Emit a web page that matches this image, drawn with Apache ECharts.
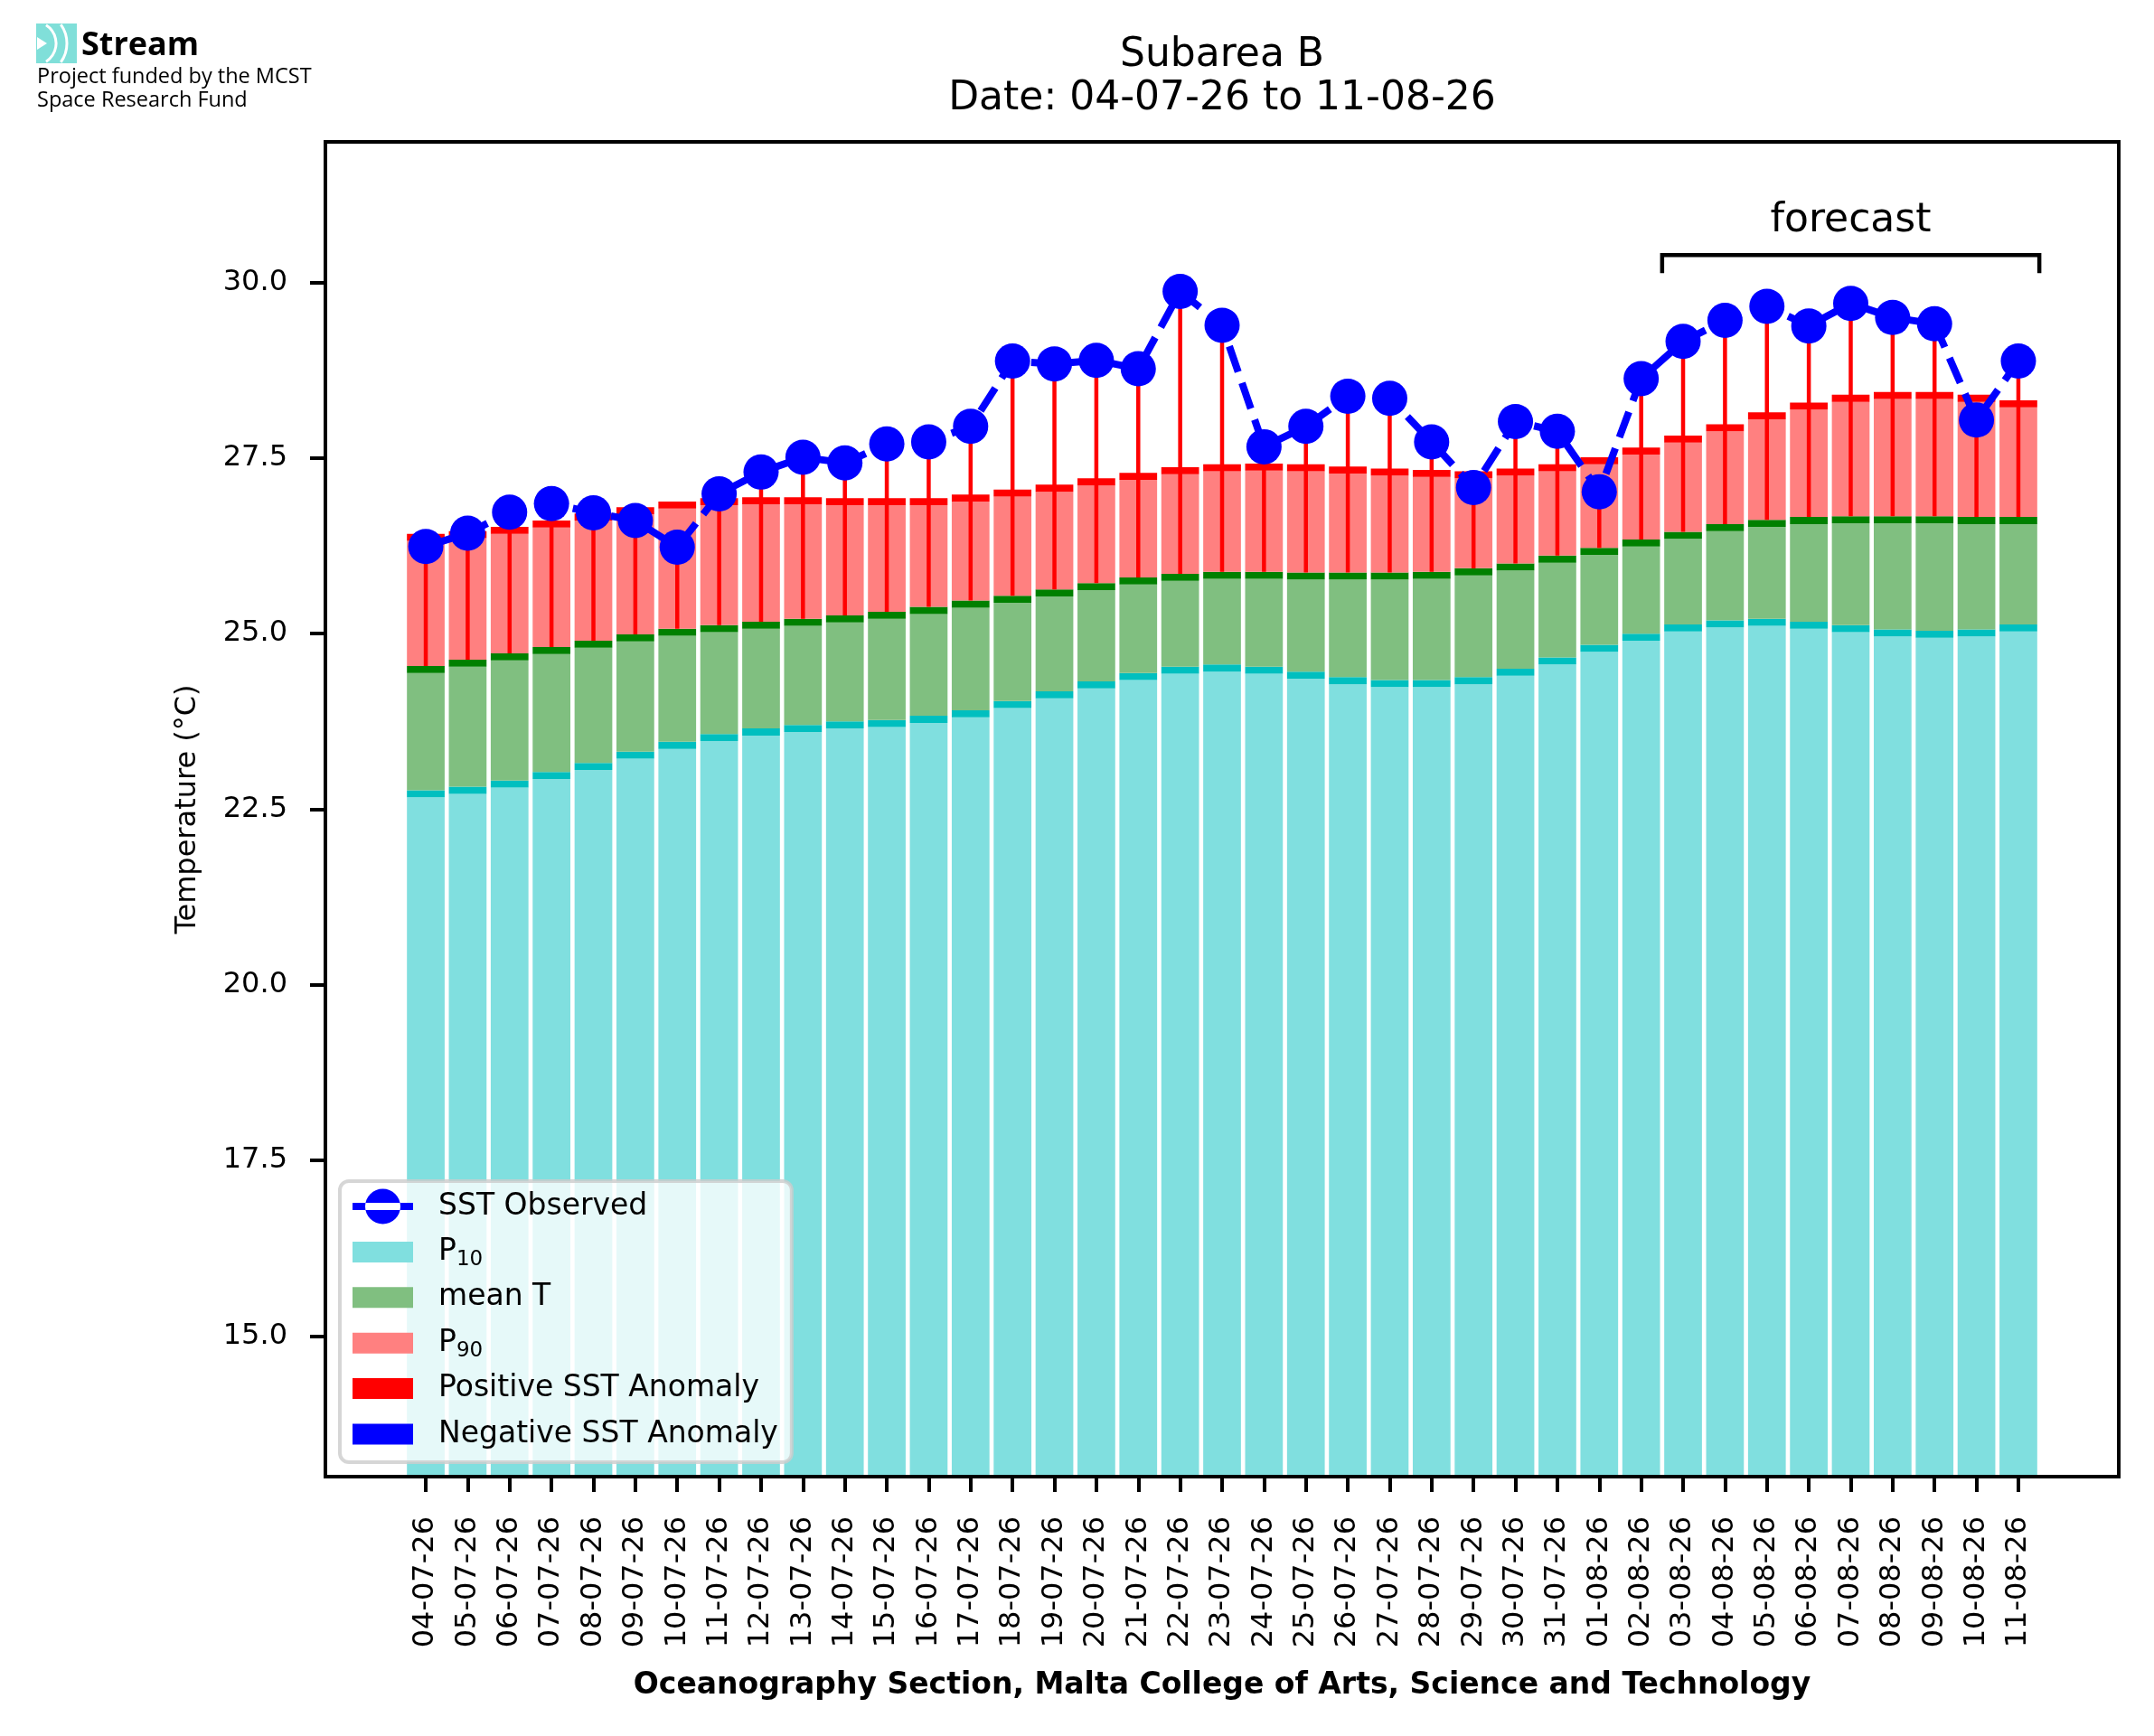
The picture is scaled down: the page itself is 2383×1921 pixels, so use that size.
<!DOCTYPE html>
<html lang="en">
<head>
<meta charset="UTF-8">
<title>Subarea B - SST</title>
<script src="https://cdn.jsdelivr.net/npm/echarts@6.0.0/dist/echarts.min.js"></script>
<style>
    html, body { margin: 0; padding: 0; background: #fff; }
    #container { width: 2383px; height: 1921px; }
</style>
</head>
<body>
<div id="container"></div>
<script>
// daily values
var days = ['04-07-26', '05-07-26', '06-07-26', '07-07-26', '08-07-26', '09-07-26', '10-07-26',
    '11-07-26', '12-07-26', '13-07-26', '14-07-26', '15-07-26', '16-07-26', '17-07-26',
    '18-07-26', '19-07-26', '20-07-26', '21-07-26', '22-07-26', '23-07-26', '24-07-26',
    '25-07-26', '26-07-26', '27-07-26', '28-07-26', '29-07-26', '30-07-26', '31-07-26',
    '01-08-26', '02-08-26', '03-08-26', '04-08-26', '05-08-26', '06-08-26', '07-08-26',
    '08-08-26', '09-08-26', '10-08-26', '11-08-26'];
var p10 = [22.77, 22.82, 22.91, 23.03, 23.16, 23.32, 23.46, 23.57, 23.65, 23.70, 23.75, 23.77, 23.83,
    23.91, 24.04, 24.18, 24.32, 24.44, 24.53, 24.56, 24.53, 24.46, 24.38, 24.34, 24.34, 24.38,
    24.50, 24.66, 24.84, 25.00, 25.13, 25.19, 25.21, 25.17, 25.12, 25.06, 25.04, 25.06, 25.13];
var meanT = [24.54, 24.63, 24.72, 24.81, 24.90, 24.99, 25.07, 25.12, 25.17, 25.21, 25.26, 25.31, 25.38,
    25.47, 25.54, 25.63, 25.72, 25.80, 25.85, 25.88, 25.88, 25.87, 25.87, 25.87, 25.88, 25.93,
    26.00, 26.11, 26.22, 26.34, 26.45, 26.56, 26.62, 26.66, 26.67, 26.67, 26.67, 26.66, 26.66];
var p90 = [26.42, 26.46, 26.52, 26.61, 26.71, 26.80, 26.88, 26.93, 26.94, 26.94, 26.93, 26.93, 26.93,
    26.98, 27.05, 27.12, 27.21, 27.29, 27.37, 27.41, 27.42, 27.41, 27.38, 27.35, 27.33, 27.31,
    27.35, 27.41, 27.51, 27.65, 27.82, 27.98, 28.15, 28.29, 28.40, 28.44, 28.44, 28.40, 28.32];
var sstObserved = [26.24, 26.43, 26.73, 26.85, 26.72, 26.61, 26.23, 26.99, 27.30, 27.51, 27.43, 27.70, 27.73,
    27.95, 28.88, 28.84, 28.89, 28.77, 29.87, 29.39, 27.66, 27.95, 28.38, 28.35, 27.73, 27.08,
    28.02, 27.88, 27.02, 28.63, 29.16, 29.46, 29.66, 29.38, 29.70, 29.50, 29.41, 28.04, 28.88];

var yTicks = [15, 17.5, 20, 22.5, 25, 27.5, 30];
// forecast bracket: from / to (bar positions), leg bottom, bracket level, label level
var forecastSpan = [29.5, 38.5];
var forecastLevels = [30.13, 30.39, 30.88];

var FONT = 'DejaVu Sans';
var BAR_W = 0.9;
var CAP = 0.1;

var idx = days.map(function (d, i) { return i; });

// one stacked layer of a bar: body + thin darker cap on top
function layerRender(bodyColor, capColor) {
    return function (params, api) {
        var x = api.value(0);
        var lo = api.value(1), hi = api.value(2);
        var w = api.size([1, 0])[0] * BAR_W;
        var pLo = api.coord([x, lo]);
        var pCap = api.coord([x, hi - CAP]);
        var pHi = api.coord([x, hi]);
        return {
            type: 'group',
            children: [{
                type: 'rect',
                shape: { x: pLo[0] - w / 2, y: pCap[1], width: w, height: pLo[1] - pCap[1] },
                style: { fill: bodyColor }
            }, {
                type: 'rect',
                shape: { x: pLo[0] - w / 2, y: pHi[1], width: w, height: pCap[1] - pHi[1] },
                style: { fill: capColor }
            }]
        };
    };
}

function anomalyRender(color) {
    return function (params, api) {
        var a = api.coord([api.value(0), api.value(1)]);
        var b = api.coord([api.value(0), api.value(2)]);
        return {
            type: 'line',
            shape: { x1: a[0], y1: a[1], x2: b[0], y2: b[1] },
            style: { stroke: color, lineWidth: 4.5 }
        };
    };
}

var posAnom = [], negAnom = [];
idx.forEach(function (i) {
    if (sstObserved[i] >= meanT[i]) posAnom.push([i, meanT[i], sstObserved[i]]);
    else negAnom.push([i, meanT[i], sstObserved[i]]);
});

var rectIcon = 'path://M0,0M90,48M0,12.5h67v23h-67z';
var dotIcon = 'path://M0,0M90,48M0,20h67v8h-67zM14,24a19.5,19.5 0 1,0 39,0a19.5,19.5 0 1,0 -39,0z';

var dom = document.getElementById('container');
var myChart = echarts.init(dom);

var option = {
    animation: false,
    backgroundColor: '#fff',
    grid: {
        left: 360, right: 39, top: 157, bottom: 287,
        show: true, borderColor: '#000', borderWidth: 4, backgroundColor: 'transparent'
    },
    graphic: [
        // logo
        {
            type: 'group', x: 40, y: 26,
            children: [
                { type: 'rect', shape: { x: 0, y: 0, width: 45, height: 44 }, style: { fill: '#80dfd9' } },
                { type: 'polygon', shape: { points: [[1, 15], [12, 22], [1, 29]] }, style: { fill: '#fff' } },
                { type: 'arc', shape: { cx: -2, cy: 22, r: 24, startAngle: -1.0, endAngle: 1.0 },
                    style: { stroke: '#fff', lineWidth: 3, fill: null } },
                { type: 'arc', shape: { cx: -2, cy: 22, r: 36, startAngle: -0.62, endAngle: 0.62 },
                    style: { stroke: '#fff', lineWidth: 3, fill: null } }
            ]
        },
        { type: 'text', x: 90, y: 51, style: { text: 'Stream', font: 'bold 36px "Open Sans"', fill: '#000', textVerticalAlign: 'middle' } },
        { type: 'text', x: 41, y: 85, style: { text: 'Project funded by the MCST', font: '23.5px "Open Sans"', fill: '#000', textVerticalAlign: 'middle' } },
        { type: 'text', x: 41, y: 111, style: { text: 'Space Research Fund', font: '23.5px "Open Sans"', fill: '#000', textVerticalAlign: 'middle' } },
        // title
        { type: 'text', x: 1352, y: 62, style: { text: 'Subarea B', font: '44px "DejaVu Sans"', fill: '#000', textAlign: 'center', textVerticalAlign: 'middle' } },
        { type: 'text', x: 1352, y: 110, style: { text: 'Date: ' + days[0] + ' to ' + days[days.length - 1], font: '44px "DejaVu Sans"', fill: '#000', textAlign: 'center', textVerticalAlign: 'middle' } }
    ],
    legend: {
        orient: 'vertical',
        left: 376, top: 1307,
        padding: [4, 15, 7, 14],
        itemGap: 2.4,
        itemWidth: 90,
        itemHeight: 48,
        selectedMode: false,
        backgroundColor: 'rgba(255,255,255,0.8)',
        borderColor: 'rgba(204,204,204,0.8)',
        borderWidth: 4,
        borderRadius: 10,
        textStyle: {
            fontFamily: FONT, fontSize: 33, color: '#000',
            rich: {
                p: { fontFamily: FONT, fontSize: 33, color: '#000', lineHeight: 40, verticalAlign: 'middle' },
                s: { fontFamily: FONT, fontSize: 23, color: '#000', lineHeight: 40, verticalAlign: 'bottom' }
            }
        },
        formatter: function (name) {
            if (name === 'P10') return '{p|P}{s|10}';
            if (name === 'P90') return '{p|P}{s|90}';
            return name;
        },
        data: [
            { name: 'SST Observed', icon: dotIcon },
            { name: 'P10', icon: rectIcon },
            { name: 'mean T', icon: rectIcon },
            { name: 'P90', icon: rectIcon },
            { name: 'Positive SST Anomaly', icon: rectIcon },
            { name: 'Negative SST Anomaly', icon: rectIcon }
        ]
    },
    xAxis: {
        type: 'value',
        min: -2.395,
        max: 40.395,
        z: 5,
        name: 'Oceanography Section, Malta College of Arts, Science and Technology',
        nameLocation: 'middle',
        nameGap: 215,
        nameTextStyle: { fontFamily: FONT, fontSize: 33, fontWeight: 'bold', color: '#000' },
        axisLine: { show: true, onZero: false, lineStyle: { color: '#000', width: 4 } },
        axisTick: { show: true, length: 17, customValues: idx, lineStyle: { color: '#000', width: 4 } },
        axisLabel: {
            customValues: idx,
            rotate: 90,
            margin: 44,
            fontFamily: FONT, fontSize: 32, color: '#000',
            formatter: function (v) { return days[Math.round(v)]; }
        },
        splitLine: { show: false }
    },
    yAxis: {
        type: 'value',
        min: 13,
        max: 32,
        z: 5,
        name: 'Temperature (°C)',
        nameLocation: 'middle',
        nameRotate: 90,
        nameGap: 136,
        nameTextStyle: { fontFamily: FONT, fontSize: 32, color: '#000' },
        axisLine: { show: true, onZero: false, lineStyle: { color: '#000', width: 4 } },
        axisTick: { show: true, length: 17, customValues: yTicks, lineStyle: { color: '#000', width: 4 } },
        axisLabel: {
            customValues: yTicks,
            margin: 42,
            padding: [14, 0, 0, 0],
            fontFamily: FONT, fontSize: 32, color: '#000',
            formatter: function (v) { return v.toFixed(1); }
        },
        splitLine: { show: false }
    },
    series: [
        {
            name: 'P10', type: 'custom', clip: true,
            itemStyle: { color: '#80dfdf' },
            encode: { x: 0, y: [1, 2] },
            renderItem: layerRender('#80dfdf', '#00bfbf'),
            data: idx.map(function (i) { return [i, 0, p10[i]]; })
        },
        {
            name: 'mean T', type: 'custom', clip: true,
            itemStyle: { color: '#80bf80' },
            encode: { x: 0, y: [1, 2] },
            renderItem: layerRender('#80bf80', '#008000'),
            data: idx.map(function (i) { return [i, p10[i], meanT[i]]; })
        },
        {
            name: 'P90', type: 'custom', clip: true,
            itemStyle: { color: '#ff8080' },
            encode: { x: 0, y: [1, 2] },
            renderItem: layerRender('#ff8080', '#ff0000'),
            data: idx.map(function (i) { return [i, meanT[i], p90[i]]; })
        },
        {
            name: 'Positive SST Anomaly', type: 'custom', clip: true,
            itemStyle: { color: '#ff0000' },
            encode: { x: 0, y: [1, 2] },
            renderItem: anomalyRender('#ff0000'),
            data: posAnom
        },
        {
            name: 'Negative SST Anomaly', type: 'custom', clip: true,
            itemStyle: { color: '#0000ff' },
            encode: { x: 0, y: [1, 2] },
            renderItem: anomalyRender('#0000ff'),
            data: negAnom
        },
        {
            name: 'SST Observed', type: 'line',
            symbol: 'circle', symbolSize: 39,
            itemStyle: { color: '#0000ff' },
            lineStyle: { color: '#0000ff', width: 8, type: [30, 13] },
            data: idx.map(function (i) { return [i, sstObserved[i]]; })
        },
        {
            // forecast bracket
            name: 'forecast', type: 'custom', silent: true,
            encode: { x: [0, 1], y: [2, 3, 4] },
            renderItem: function (params, api) {
                var x0 = api.value(0), x1 = api.value(1);
                var legY = api.value(2), lvY = api.value(3), txtY = api.value(4);
                var pts = [api.coord([x0, legY]), api.coord([x0, lvY]), api.coord([x1, lvY]), api.coord([x1, legY])];
                var mid = api.coord([(x0 + x1) / 2, txtY]);
                return {
                    type: 'group',
                    children: [{
                        type: 'polyline',
                        shape: { points: pts },
                        style: { stroke: '#000', lineWidth: 4.5, fill: null }
                    }, {
                        type: 'text',
                        x: mid[0], y: mid[1],
                        style: { text: 'forecast', font: '44px "DejaVu Sans"', fill: '#000', textAlign: 'center', textVerticalAlign: 'middle' }
                    }]
                };
            },
            data: [[forecastSpan[0], forecastSpan[1], forecastLevels[0], forecastLevels[1], forecastLevels[2]]]
        }
    ]
};

if (option && typeof option === 'object') {
    myChart.setOption(option, true);
}
</script>
</body>
</html>
